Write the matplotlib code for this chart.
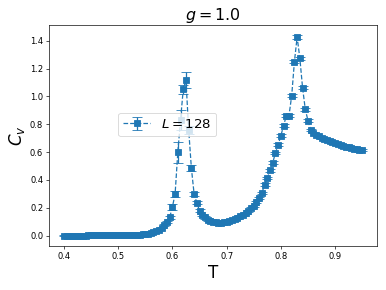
import numpy as np
import matplotlib
matplotlib.use("Agg")
import matplotlib.pyplot as plt

# temperatures (L = 128 run)
T = [0.400, 0.405, 0.410, 0.415, 0.420, 0.425, 0.430, 0.435, 0.440, 0.445,
     0.450, 0.455, 0.460, 0.465, 0.470, 0.475, 0.480, 0.485, 0.490, 0.495,
     0.500, 0.505, 0.510, 0.515, 0.520, 0.525, 0.530, 0.535, 0.540, 0.545,
     0.550, 0.555, 0.560, 0.565, 0.570, 0.575, 0.580, 0.585, 0.590, 0.595,
     0.600, 0.605, 0.610, 0.615, 0.620, 0.625, 0.630, 0.635, 0.640, 0.645,
     0.650, 0.655, 0.660, 0.665, 0.670, 0.675, 0.680, 0.685, 0.690, 0.695,
     0.700, 0.705, 0.710, 0.715, 0.720, 0.725, 0.730, 0.735, 0.740, 0.745,
     0.750, 0.755, 0.760, 0.765, 0.770, 0.775, 0.780, 0.785, 0.790, 0.795,
     0.800, 0.805, 0.810, 0.815, 0.820, 0.825, 0.830, 0.835, 0.840, 0.845,
     0.850, 0.855, 0.860, 0.865, 0.870, 0.875, 0.880, 0.885, 0.890, 0.895,
     0.900, 0.905, 0.910, 0.915, 0.920, 0.925, 0.930, 0.935, 0.940, 0.945,
     0.950]

# specific heat
Cv = [0.000, 0.000, 0.000, 0.000, 0.000, 0.000, 0.000, 0.000, 0.000, 0.001,
      0.001, 0.001, 0.001, 0.001, 0.001, 0.001, 0.001, 0.002, 0.002, 0.002,
      0.002, 0.002, 0.003, 0.003, 0.004, 0.004, 0.005, 0.006, 0.007, 0.009,
      0.011, 0.014, 0.018, 0.024, 0.032, 0.042, 0.056, 0.075, 0.100, 0.130,
      0.205, 0.300, 0.600, 0.830, 1.050, 1.118, 0.760, 0.485, 0.300, 0.235,
      0.180, 0.150, 0.130, 0.115, 0.105, 0.100, 0.095, 0.093, 0.093, 0.095,
      0.098, 0.103, 0.110, 0.118, 0.127, 0.138, 0.150, 0.163, 0.178, 0.196,
      0.215, 0.240, 0.270, 0.306, 0.366, 0.413, 0.468, 0.525, 0.593, 0.652,
      0.717, 0.790, 0.860, 0.862, 1.006, 1.250, 1.426, 1.274, 1.063, 0.908,
      0.826, 0.760, 0.740, 0.725, 0.712, 0.702, 0.693, 0.685, 0.677, 0.670,
      0.663, 0.656, 0.650, 0.644, 0.639, 0.634, 0.629, 0.625, 0.621, 0.618,
      0.615]

# error bars
Cv_err = [0.002, 0.002, 0.002, 0.002, 0.002, 0.002, 0.002, 0.002, 0.002, 0.002,
          0.002, 0.002, 0.002, 0.002, 0.002, 0.002, 0.002, 0.002, 0.002, 0.002,
          0.002, 0.002, 0.002, 0.002, 0.002, 0.002, 0.002, 0.002, 0.002, 0.002,
          0.003, 0.003, 0.003, 0.003, 0.004, 0.004, 0.005, 0.005, 0.008, 0.010,
          0.020, 0.020, 0.075, 0.075, 0.030, 0.055, 0.030, 0.020, 0.015, 0.010,
          0.008, 0.008, 0.008, 0.008, 0.008, 0.008, 0.008, 0.008, 0.008, 0.008,
          0.008, 0.008, 0.008, 0.008, 0.008, 0.008, 0.008, 0.008, 0.008, 0.008,
          0.008, 0.008, 0.008, 0.010, 0.010, 0.010, 0.010, 0.010, 0.010, 0.010,
          0.010, 0.010, 0.010, 0.010, 0.010, 0.010, 0.015, 0.010, 0.010, 0.010,
          0.010, 0.008, 0.005, 0.005, 0.005, 0.005, 0.005, 0.005, 0.005, 0.005,
          0.005, 0.005, 0.005, 0.005, 0.005, 0.005, 0.005, 0.005, 0.005, 0.005,
          0.005]

fig, ax = plt.subplots(figsize=(386 / 60, 290 / 60), dpi=60)
ax.errorbar(T, Cv, yerr=Cv_err, fmt='s--', markersize=7, capsize=6,
            label=r'$L=128$')
ax.set_title(r'$g=1.0$', fontsize=19)
ax.set_xlabel('T', fontsize=20)
ax.set_ylabel(r'$C_v$', fontsize=20)
ax.legend(fontsize=16, loc='center left', bbox_to_anchor=(0.19, 0.55))
plt.subplots_adjust(left=0.127, right=0.977, top=0.914, bottom=0.152)
plt.savefig('out.png', dpi=60)
